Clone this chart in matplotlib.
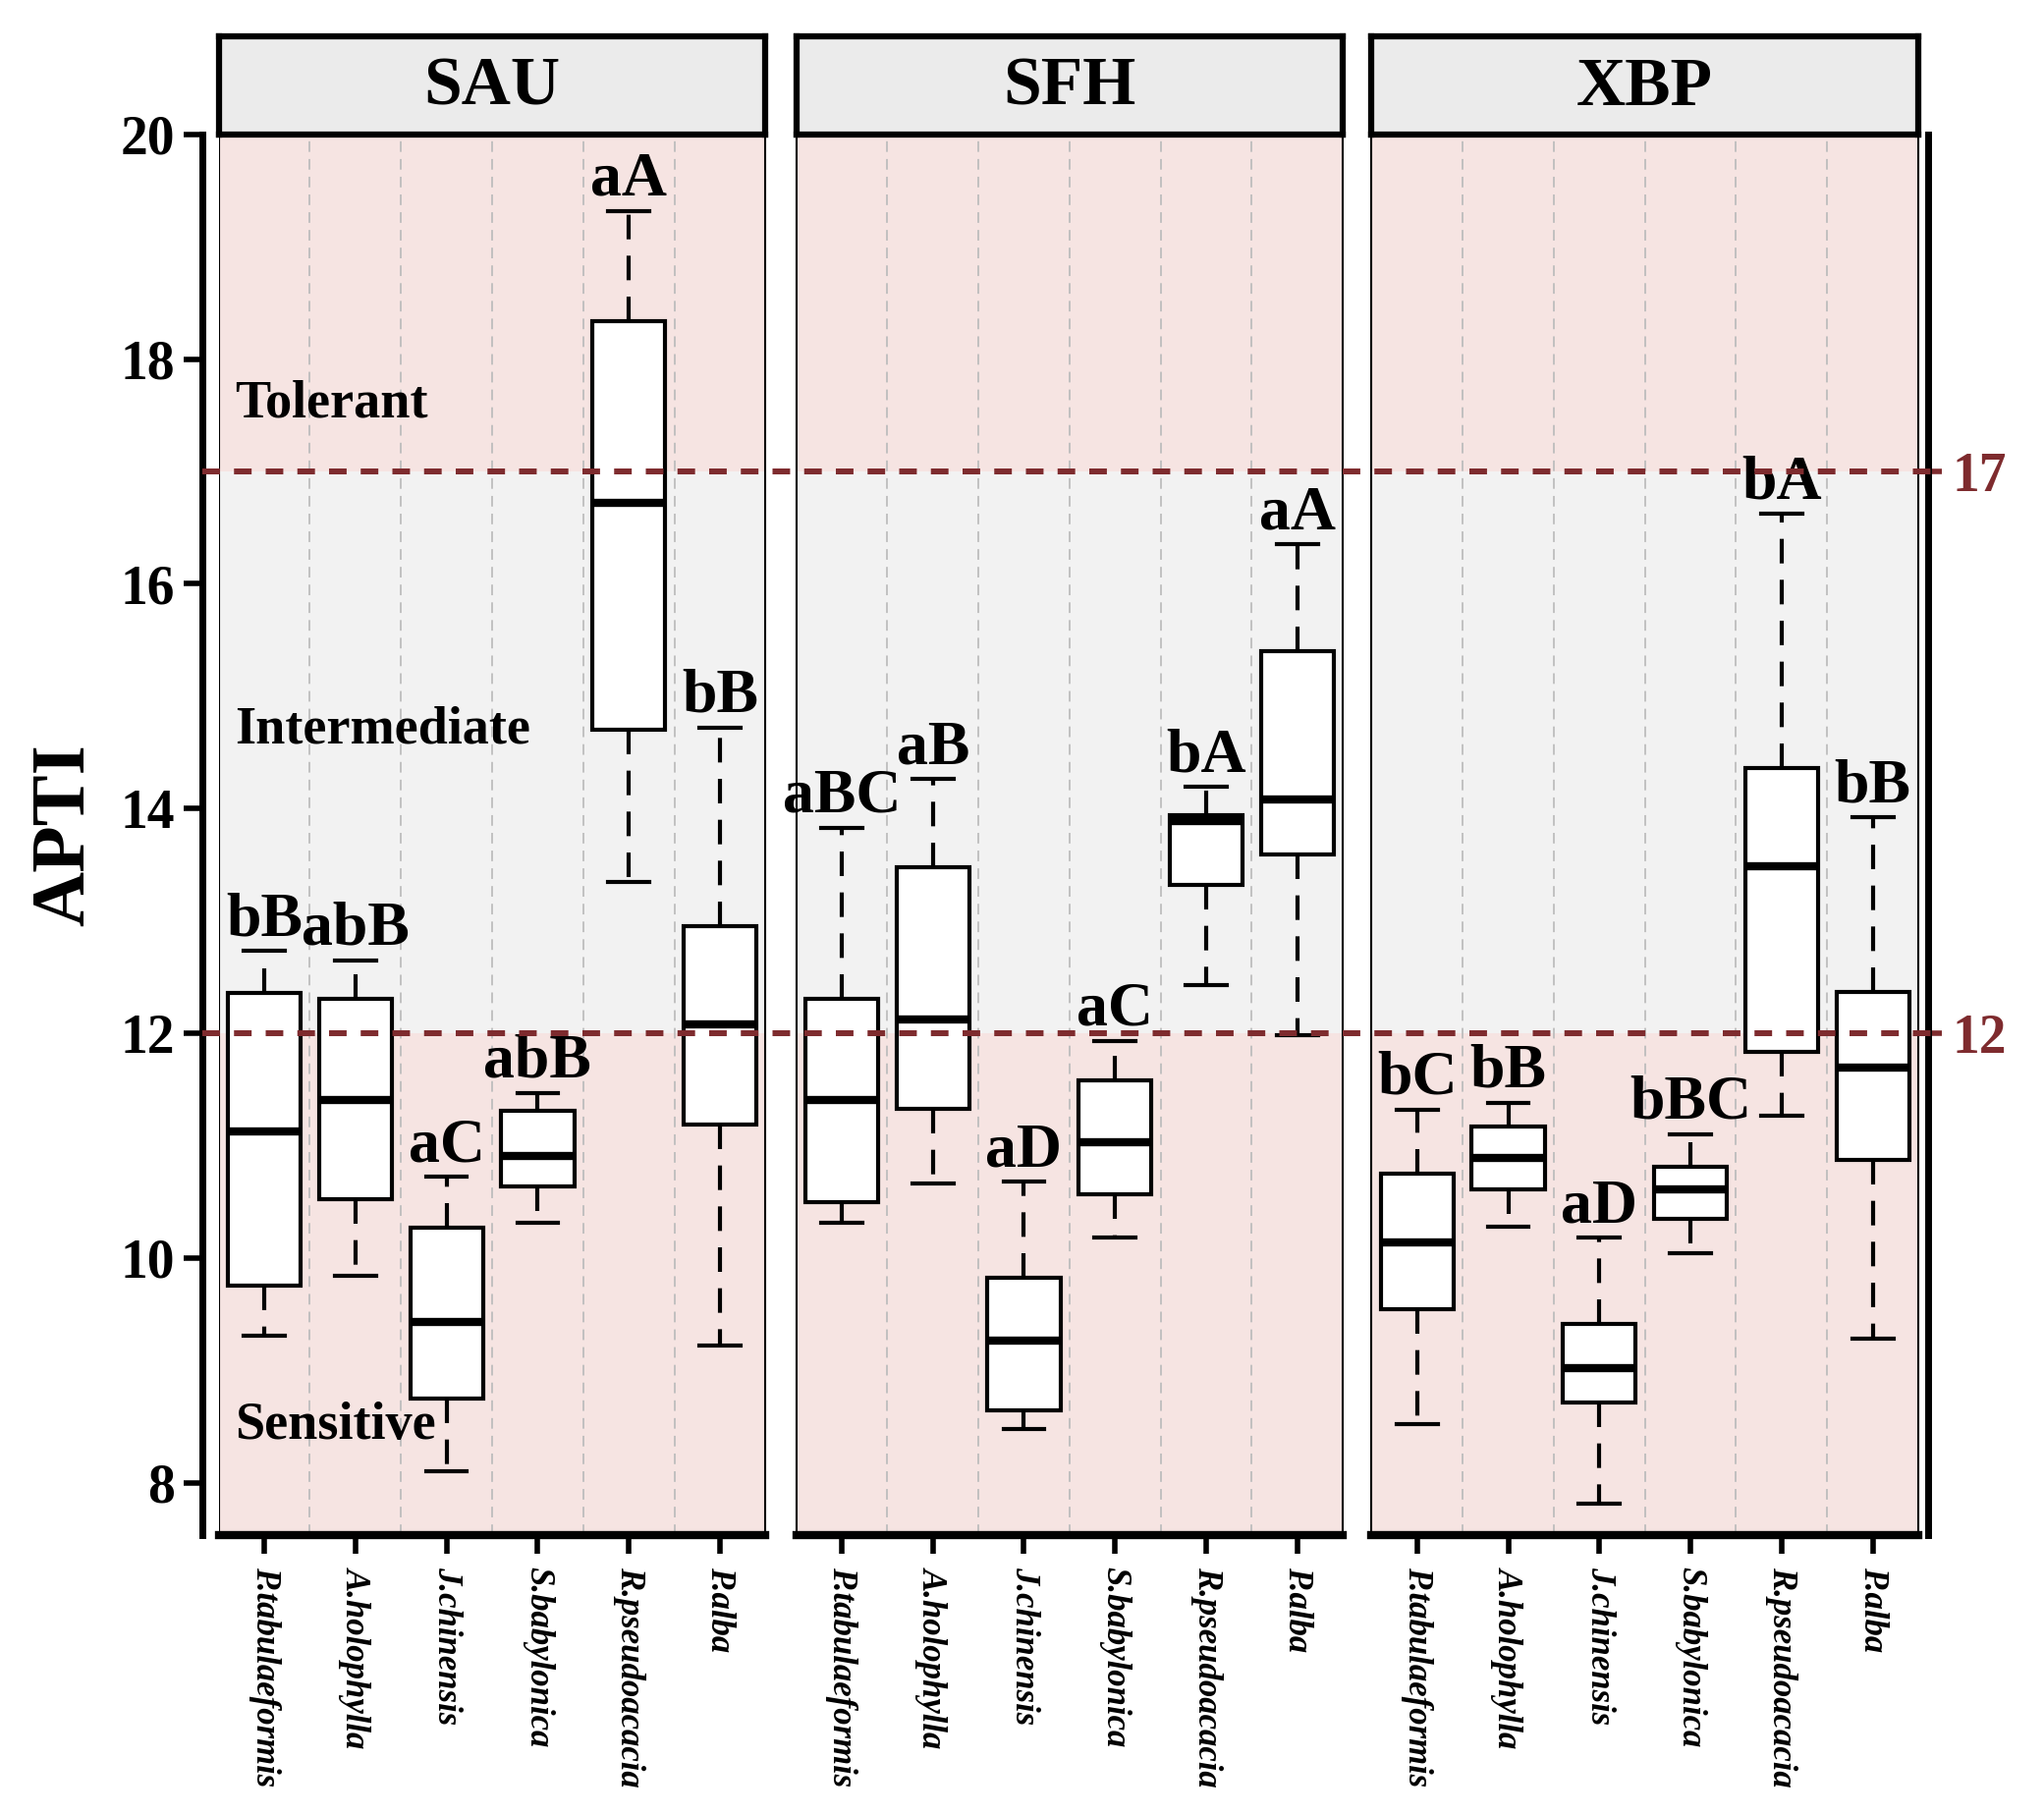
import matplotlib
matplotlib.use('Agg')
import matplotlib.pyplot as plt

plt.rcParams['font.family'] = ['Liberation Serif', 'DejaVu Serif']
plt.rcParams['font.weight'] = 'bold'

species = ['P.tabulaeformis', 'A.holophylla', 'J.chinensis',
           'S.babylonica', 'R.pseudoacacia', 'P.alba']
sites = ['SAU', 'SFH', 'XBP']

# box statistics, per site
sau_whislo = [9.31, 9.84, 8.10, 10.31, 13.35, 9.22]
sau_q1 = [9.75, 10.52, 8.75, 10.64, 14.70, 11.19]
sau_med = [11.13, 11.41, 9.43, 10.91, 16.72, 12.08]
sau_q3 = [12.36, 12.31, 10.27, 11.31, 18.34, 12.95]
sau_whishi = [12.73, 12.65, 10.72, 11.47, 19.32, 14.72]
sau_letters = ['bB', 'abB', 'aC', 'abB', 'aA', 'bB']

sfh_whislo = [10.31, 10.66, 8.48, 10.18, 12.43, 11.98]
sfh_q1 = [10.50, 11.33, 8.64, 10.57, 13.32, 13.59]
sfh_med = [11.41, 12.12, 9.26, 11.03, 13.89, 14.08]
sfh_q3 = [12.31, 13.48, 9.82, 11.58, 13.94, 15.40]
sfh_whishi = [13.83, 14.26, 10.68, 11.93, 14.19, 16.35]
sfh_letters = ['aBC', 'aB', 'aD', 'aC', 'bA', 'aA']

xbp_whislo = [8.52, 10.28, 7.81, 10.04, 11.27, 9.28]
xbp_q1 = [9.54, 10.61, 8.71, 10.35, 11.83, 10.87]
xbp_med = [10.14, 10.89, 9.02, 10.61, 13.49, 11.69]
xbp_q3 = [10.75, 11.17, 9.41, 10.81, 14.36, 12.37]
xbp_whishi = [11.32, 11.38, 10.18, 11.10, 16.62, 13.92]
xbp_letters = ['bC', 'bB', 'aD', 'bBC', 'bA', 'bB']

thresholds = [12, 17]
zones = ['Sensitive', 'Intermediate', 'Tolerant']
zone_y = [8.5, 14.7, 17.6]

site_data = [
    (sau_whislo, sau_q1, sau_med, sau_q3, sau_whishi, sau_letters),
    (sfh_whislo, sfh_q1, sfh_med, sfh_q3, sfh_whishi, sfh_letters),
    (xbp_whislo, xbp_q1, xbp_med, xbp_q3, xbp_whishi, xbp_letters),
]

ymin, ymax = 7.53, 20
pink = '#F6E4E2'
grey = '#F2F2F2'
red = '#7E2B2E'

fig = plt.figure(figsize=(20.81, 18.48), dpi=100)

panel_x = [0.107, 0.3895, 0.671]
panel_w = 0.2675
bottom, height = 0.154, 0.772
strip_h = 0.054

axes = []
for i, site in enumerate(sites):
    ax = fig.add_axes([panel_x[i], bottom, panel_w, height])
    axes.append(ax)
    wlo, q1, med, q3, whi, letters = site_data[i]

    ax.axhspan(ymin, thresholds[0], color=pink, zorder=0, lw=0)
    ax.axhspan(thresholds[0], thresholds[1], color=grey, zorder=0, lw=0)
    ax.axhspan(thresholds[1], ymax, color=pink, zorder=0, lw=0)
    for g in range(1, 6):
        ax.axvline(g + 0.5, color='#BDBDBD', lw=1.3, ls=(0, (6, 4)), zorder=1)

    stats = []
    for k in range(len(species)):
        stats.append(dict(whislo=wlo[k], q1=q1[k], med=med[k],
                          q3=q3[k], whishi=whi[k], fliers=[]))
    ax.bxp(stats, positions=range(1, 7), widths=0.8, capwidths=0.45,
           patch_artist=True, showfliers=False,
           boxprops=dict(facecolor='white', edgecolor='black', lw=3),
           medianprops=dict(color='black', lw=6, solid_capstyle='butt'),
           whiskerprops=dict(color='black', lw=3, ls=(0, (6, 4))),
           capprops=dict(color='black', lw=3), zorder=3)

    for k in range(len(species)):
        ax.text(k + 1, whi[k] + 0.14, letters[k], ha='center',
                va='baseline', fontsize=46, fontweight='bold', zorder=6)

    ax.set_xlim(0.5, 6.5)
    ax.set_ylim(ymin, ymax)
    ax.set_xticks(range(1, 7))
    ax.set_xticklabels(species, rotation=-90, fontsize=25,
                       fontstyle='italic', fontweight='bold', va='top')
    ax.tick_params(axis='x', length=14, width=4, pad=9)
    for s in ['top', 'right', 'left']:
        ax.spines[s].set_linewidth(1.5)
    ax.spines['bottom'].set_linewidth(6)

    if i == 0:
        ax.spines['left'].set_position(('outward', 12))
        ax.spines['left'].set_linewidth(5)
        ax.spines['left'].set_bounds(ymin, ymax)
        ax.set_yticks([8, 10, 12, 14, 16, 18, 20])
        ax.tick_params(axis='y', length=14, width=4, labelsize=40, pad=6)
        ax.axvline(0.5, color='black', lw=1.5, zorder=5)
        for z, zy in zip(zones, zone_y):
            ax.text(0.68, zy, z, ha='left', va='center', fontsize=39,
                    fontweight='bold', zorder=6)
    else:
        ax.set_yticks([])

    # strip on top
    sax = fig.add_axes([panel_x[i], bottom + height, panel_w, strip_h])
    sax.set_facecolor('#EBEBEB')
    sax.set_xticks([])
    sax.set_yticks([])
    for s in sax.spines.values():
        s.set_linewidth(4.5)
    sax.text(0.5, 0.47, site, ha='center', va='center', fontsize=50,
             fontweight='bold', transform=sax.transAxes)

# right side axis with threshold labels
rax = axes[2].twinx()
rax.set_ylim(ymin, ymax)
rax.spines['right'].set_position(('outward', 7))
rax.spines['right'].set_linewidth(5)
for s in ['top', 'left', 'bottom']:
    rax.spines[s].set_visible(False)
rax.set_yticks(thresholds)
rax.set_yticklabels([str(t) for t in thresholds], color=red, fontsize=40,
                    fontweight='bold')
rax.tick_params(axis='y', length=10, width=4, color=red, pad=8)

# threshold dashed lines running across all panels
over = fig.add_axes([0.099, bottom, 0.849, height], zorder=10)
over.set_ylim(ymin, ymax)
over.set_xlim(0, 1)
over.axis('off')
over.patch.set_visible(False)
for t in thresholds:
    over.axhline(t, color=red, lw=4.3, ls=(0, (3, 2.4)))

fig.text(0.032, 0.54, 'APTI', rotation=90, ha='center', va='center',
         fontsize=56, fontweight='bold')

fig.savefig('out.png', dpi=100)
